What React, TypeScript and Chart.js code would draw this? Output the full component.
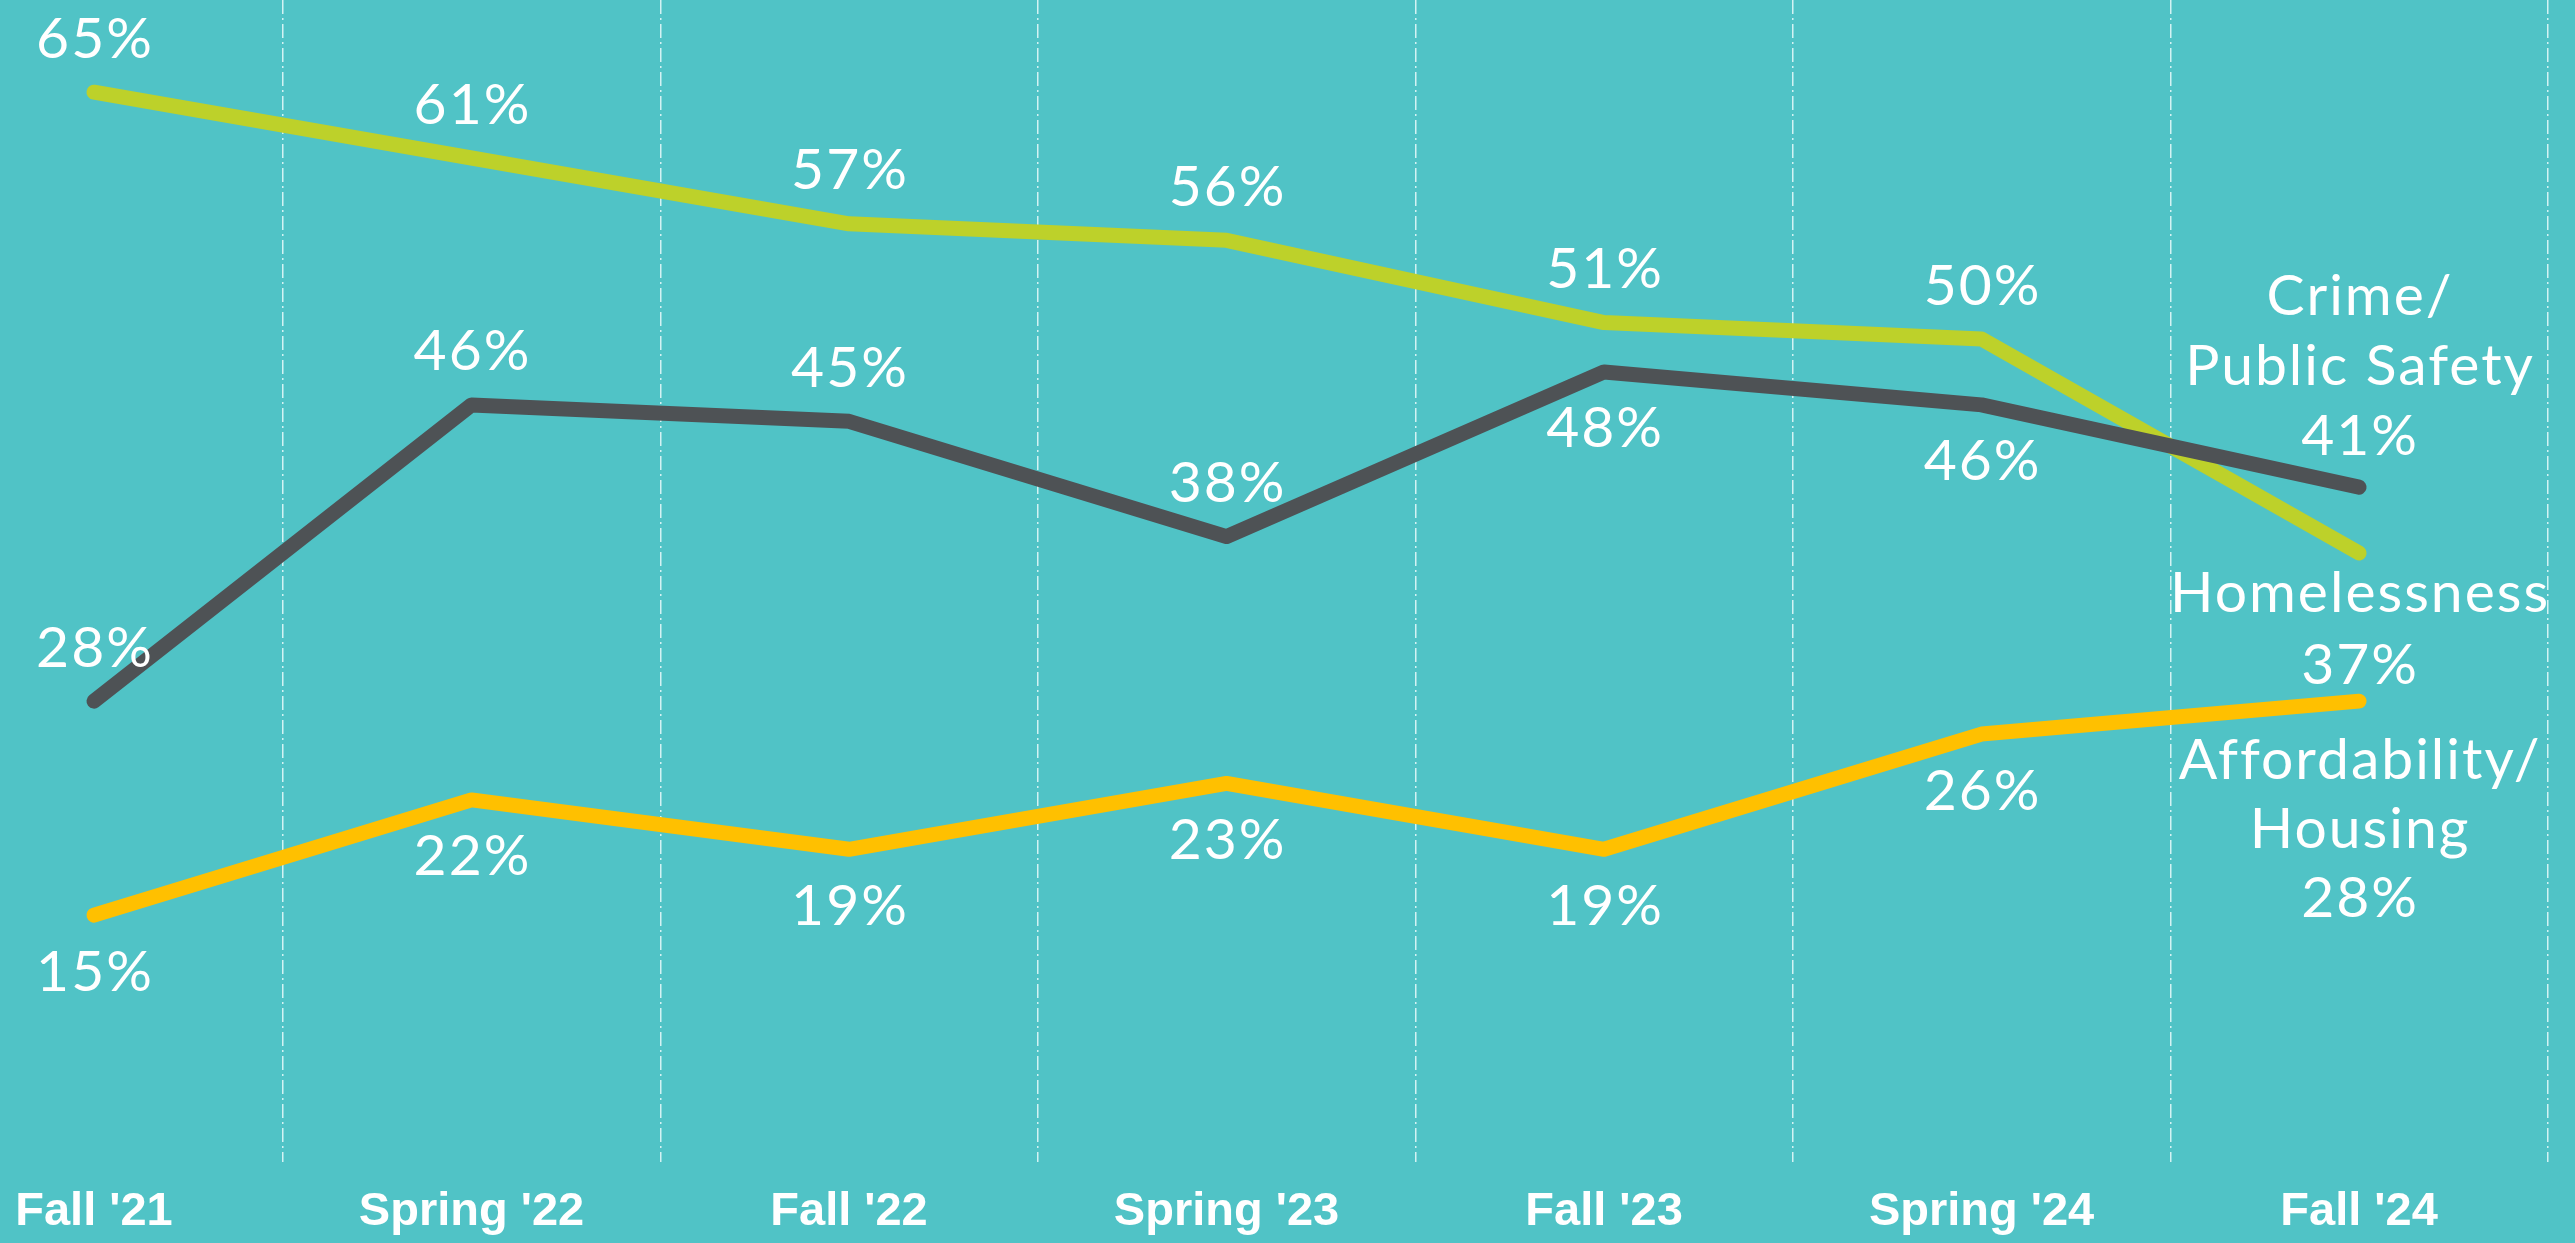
import React, { useEffect, useRef } from 'react';
import { Chart, registerables } from 'chart.js';

Chart.register(...registerables);

// ---- data ----
const categories = ["Fall '21", "Spring '22", "Fall '22", "Spring '23", "Fall '23", "Spring '24", "Fall '24"];
const crimeValues = [28, 46, 45, 38, 48, 46, 41];
const homelessValues = [65, 61, 57, 56, 51, 50, 37];
const affordValues = [15, 22, 19, 23, 19, 26, 28];
const crimeName = ['Crime/', 'Public Safety'];
const homelessName = ['Homelessness'];
const affordName = ['Affordability/', 'Housing'];

// ---- styles ----
const BG = '#50C3C6';
const COLORS = { crime: '#4E5255', homeless: '#BDD12A', afford: '#FFC000' };
const LABEL_SIZE = 57;
const LABEL_FONT = `400 ${LABEL_SIZE}px Lato, "Noto Sans", sans-serif`;
const CAP = 0.36 * LABEL_SIZE;
// label side per point: -1 above, 1 below
const crimeSide = [-1, -1, -1, -1, 1, 1];
const homelessSide = [-1, -1, -1, -1, -1, -1];
const affordSide = [1, 1, 1, 1, 1, 1];

const toPoints = (vals: number[]) => vals.map((v, i) => ({ x: i, y: v }));

type EndCfg = { name: string[]; side: number; first: number; step: number };
const labelCfg: { side: number[]; end: EndCfg }[] = [
  { side: crimeSide, end: { name: crimeName, side: -1, first: 53, step: 70 } },
  { side: homelessSide, end: { name: homelessName, side: 1, first: 38, step: 72 } },
  { side: affordSide, end: { name: affordName, side: 1, first: 57, step: 69 } },
];

const labelPlugin = {
  id: 'pointLabels',
  afterDatasetsDraw(chart: any) {
    const ctx = chart.ctx as CanvasRenderingContext2D;
    ctx.save();
    ctx.fillStyle = '#ffffff';
    ctx.font = LABEL_FONT;
    (ctx as any).letterSpacing = '2px';
    ctx.textAlign = 'center';
    ctx.textBaseline = 'alphabetic';
    chart.data.datasets.forEach((ds: any, di: number) => {
      const meta = chart.getDatasetMeta(di);
      const cfg = labelCfg[di];
      const n = meta.data.length;
      meta.data.forEach((pt: any, i: number) => {
        const v = ds.data[i].y;
        const txt = `${v}%`;
        if (i < n - 1) {
          const cy = pt.y + cfg.side[i] * 55;
          ctx.fillText(txt, pt.x + 1, cy + CAP);
        } else {
          const lines = [...cfg.end.name, txt];
          if (cfg.end.side < 0) {
            lines.forEach((ln, k) => {
              const fromBottom = lines.length - 1 - k;
              const cy = pt.y - cfg.end.first - fromBottom * cfg.end.step;
              ctx.fillText(ln, pt.x + 1, cy + CAP);
            });
          } else {
            lines.forEach((ln, k) => {
              const cy = pt.y + cfg.end.first + k * cfg.end.step;
              ctx.fillText(ln, pt.x + 1, cy + CAP);
            });
          }
        }
      });
    });
    ctx.restore();
  },
};

export default function App() {
  const ref = useRef<HTMLCanvasElement | null>(null);
  useEffect(() => {
    document.body.style.margin = '0';
    const canvas = ref.current;
    if (!canvas) return;
    const lineDs = (label: string, vals: number[], color: string) => ({
      label,
      data: toPoints(vals),
      borderColor: color,
      backgroundColor: color,
      borderWidth: 15,
      borderCapStyle: 'round' as const,
      borderJoinStyle: 'round' as const,
      pointRadius: 0,
      pointHoverRadius: 0,
      tension: 0,
      fill: false,
      clip: false as any,
    });
    const chart = new Chart(canvas, {
      type: 'line',
      data: {
        datasets: [
          lineDs('Crime/Public Safety', crimeValues, COLORS.crime),
          lineDs('Homelessness', homelessValues, COLORS.homeless),
          lineDs('Affordability/Housing', affordValues, COLORS.afford),
        ],
      },
      options: {
        responsive: false,
        animation: false,
        devicePixelRatio: 1,
        layout: { padding: 0 },
        plugins: { legend: { display: false }, tooltip: { enabled: false } },
        events: [],
        scales: {
          x: {
            type: 'linear',
            min: -0.249,
            max: 6.572,
            bounds: 'data',
            afterBuildTicks: (axis: any) => {
              const t: { value: number }[] = [];
              for (let i = 0; i < categories.length; i++) {
                t.push({ value: i });
                t.push({ value: i + 0.5 });
              }
              axis.ticks = t;
            },
            afterFit: (axis: any) => {
              axis.height = 81;
              axis.paddingLeft = 0;
              axis.paddingRight = 0;
            },
            ticks: {
              autoSkip: false,
              maxRotation: 0,
              padding: 22,
              color: '#ffffff',
              font: { family: '"Liberation Sans", Arial, sans-serif', size: 47, weight: 'bold' },
              callback: (value: any) => (Number.isInteger(value) ? categories[value] : ''),
            },
            grid: {
              drawTicks: false,
              lineWidth: 1.5,
              color: (c: any) => (c.tick && !Number.isInteger(c.tick.value) ? 'rgba(225,247,247,0.9)' : 'rgba(0,0,0,0)'),
            },
            border: { display: false, dash: [14, 4, 2, 4] },
          },
          y: {
            display: false,
            min: 0,
            max: 70.6,
          },
        },
      },
      plugins: [labelPlugin],
    });
    return () => chart.destroy();
  }, []);
  return (
    <div style={{ position: 'fixed', left: 0, top: 0, width: '2575px', height: '1243px', background: BG }}>
      <canvas ref={ref} width={2575} height={1243} style={{ display: 'block' }} />
    </div>
  );
}
